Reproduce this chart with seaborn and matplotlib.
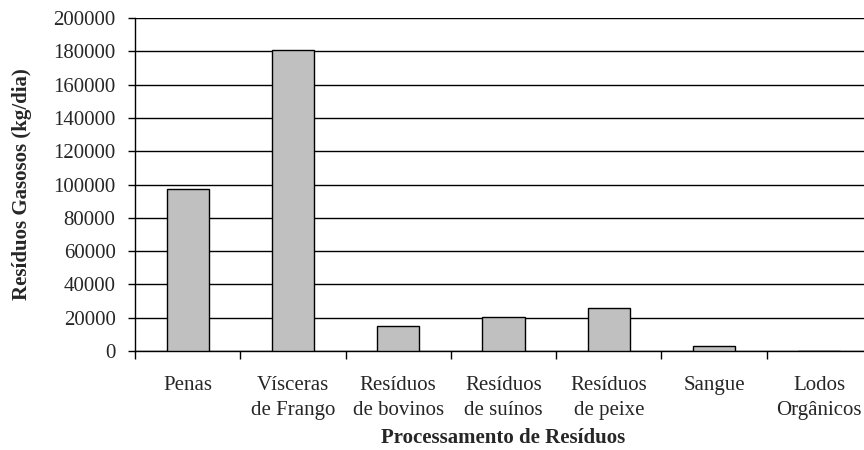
import matplotlib
matplotlib.use("Agg")
import matplotlib.pyplot as plt
from matplotlib.ticker import MultipleLocator, FixedLocator
import seaborn as sns
import pandas as pd

categorias = ["Penas", "Vísceras\nde Frango", "Resíduos\nde bovinos", "Resíduos\nde suínos",
              "Resíduos\nde peixe", "Sangue", "Lodos\nOrgânicos"]
residuos_gasosos = [97300, 181000, 15200, 20400, 25700, 2800, 0]

sns.set_theme(style="white")
plt.rcParams["font.family"] = ["Liberation Serif", "DejaVu Serif"]

df = pd.DataFrame({"categoria": categorias, "valor": residuos_gasosos})

fig = plt.figure(figsize=(8.64, 4.5), dpi=100)
ax = fig.add_axes([135 / 864, 99 / 450, 737 / 864, 333 / 450])

sns.barplot(data=df, x="categoria", y="valor", ax=ax, width=0.4,
            color="#C0C0C0", edgecolor="black", linewidth=1, saturation=1, zorder=3)

ax.set_xlim(-0.5, len(categorias) - 0.5)
ax.set_ylim(0, 200000)
ax.yaxis.set_major_locator(MultipleLocator(20000))
ax.grid(axis="y", color="black", linewidth=1, zorder=0)
ax.set_axisbelow(True)

for s in ["top", "right"]:
    ax.spines[s].set_visible(False)
for s in ["left", "bottom"]:
    ax.spines[s].set_color("black")
    ax.spines[s].set_linewidth(1)

# category labels at bar centers, tick marks at category boundaries
ax.set_xticks(range(len(categorias)))
ax.set_xticklabels(categorias, fontsize=15, linespacing=1.42)
ax.tick_params(axis="x", which="major", length=0, pad=18)
ax.xaxis.set_minor_locator(FixedLocator([i - 0.5 for i in range(len(categorias) + 1)]))
ax.tick_params(axis="x", which="minor", bottom=True, length=6, width=1, color="black")
ax.tick_params(axis="y", left=True, length=5, width=1, color="black", labelsize=15, pad=9)

ax.set_xlabel("Processamento de Resíduos", fontsize=15, fontweight="bold", labelpad=6)
ax.set_ylabel("Resíduos Gasosos (kg/dia)", fontsize=15, fontweight="bold", labelpad=15)

fig.savefig("out.png", dpi=100)
